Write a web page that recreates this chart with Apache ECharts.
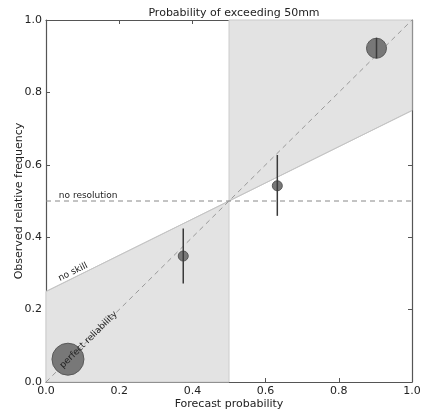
<!DOCTYPE html>
<html><head><meta charset="utf-8">
<script src="https://cdn.jsdelivr.net/npm/echarts@6/dist/echarts.min.js"></script>
<style>html,body{margin:0;padding:0;background:#fff}#c{width:422px;height:412px}</style>
</head><body><div id="c"></div>
<script>
// ---- data ----
const titleText = 'Probability of exceeding 50mm';
const xName = 'Forecast probability';
const yName = 'Observed relative frequency';
const tickValues = [0, 0.2, 0.4, 0.6, 0.8, 1.0];
const climatology = 0.5;
const forecastProb = [0.06, 0.375, 0.632, 0.903];
const observedFreq = [0.063, 0.348, 0.542, 0.922];
const errLow  = [null, 0.272, 0.459, 0.894];
const errHigh = [null, 0.424, 0.627, 0.951];
const pointSize = [32, 10, 10, 20];
const perfectLine = [[0, 0], [1, 1]];
const noSkillLine = [[0, 0.25], [1, 0.75]];
const noResolutionLine = [[0, 0.5], [1, 0.5]];
const skillLeft = [[0, 0], [0, 0.25], [0.5, 0.5], [0.5, 0]];
const skillRight = [[0.5, 0.5], [0.5, 1], [1, 1], [1, 0.75]];
const annotations = [
  {text: 'no resolution', at: [0.035, 0.5], along: noResolutionLine, valign: 'bottom'},
  {text: 'no skill', at: [0.042, 0.271], along: noSkillLine, valign: 'bottom'},
  {text: 'perfect reliability', at: [0.042, 0.042], along: perfectLine, valign: 'middle'}
];

const FONT = 'DejaVu Sans, sans-serif';
const chart = echarts.init(document.getElementById('c'), null, {renderer: 'canvas'});

function polySeries(poly) {
  return {
    type: 'custom', z: 1, silent: true,
    data: [[poly[0][0], poly[0][1]]],
    renderItem: function (params, api) {
      return {type: 'polygon', shape: {points: poly.map(p => api.coord(p))},
        style: {fill: '#e3e3e3', stroke: '#cccccc', lineWidth: 1}};
    }
  };
}

const axisCommon = {
  type: 'value', min: 0, max: 1, interval: 0.2,
  axisLine: {show: true, onZero: false, lineStyle: {color: '#555', width: 1.2}},
  axisTick: {show: true, inside: true, length: 4, lineStyle: {color: '#555'}},
  splitLine: {show: false}
};

const option = {
  backgroundColor: '#fff',
  animation: false,
  title: {text: titleText, left: 229, top: 3, textAlign: 'center',
    textStyle: {fontFamily: FONT, fontSize: 11, fontWeight: 'normal', color: '#222'}},
  grid: {left: 46, right: 10, top: 20, bottom: 30, containLabel: false, outerBoundsMode: 'none'},
  xAxis: [
    Object.assign({}, axisCommon, {position: 'bottom', name: xName, nameLocation: 'middle', nameGap: 17,
      nameMoveOverlap: false,
      nameTextStyle: {fontFamily: FONT, fontSize: 11, color: '#222'},
      axisLabel: {fontFamily: FONT, fontSize: 11, color: '#222', margin: 4, formatter: v => v.toFixed(1)}}),
    Object.assign({}, axisCommon, {position: 'top', axisLabel: {show: false}})
  ],
  yAxis: [
    Object.assign({}, axisCommon, {position: 'left', name: yName, nameLocation: 'middle', nameGap: 21,
      nameMoveOverlap: false,
      nameTextStyle: {fontFamily: FONT, fontSize: 11, color: '#222'},
      axisLabel: {fontFamily: FONT, fontSize: 11, color: '#222', margin: 4, formatter: v => v.toFixed(1)}}),
    Object.assign({}, axisCommon, {position: 'right', axisLabel: {show: false}})
  ],
  series: [
    polySeries(skillLeft),
    polySeries(skillRight),
    {type: 'line', z: 2, data: noSkillLine, symbol: 'none', silent: true,
      lineStyle: {color: '#c4c4c4', width: 1}},
    {type: 'line', z: 3, data: noResolutionLine, symbol: 'none', silent: true,
      lineStyle: {color: '#888', width: 1, type: [5, 4]}},
    {type: 'line', z: 3, data: perfectLine, symbol: 'none', silent: true,
      lineStyle: {color: '#999', width: 1, type: [5, 4]}},
    {type: 'scatter', z: 4, data: forecastProb.map((x, i) => [x, observedFreq[i], pointSize[i]]),
      symbolSize: d => d[2],
      itemStyle: {color: '#787878', borderColor: '#595959', borderWidth: 1, opacity: 1}},
    {type: 'custom', z: 5, silent: true,
      data: forecastProb.map((x, i) => [x, errLow[i], errHigh[i]]).filter(d => d[1] !== null),
      renderItem: function (params, api) {
        const a = api.coord([api.value(0), api.value(1)]);
        const b = api.coord([api.value(0), api.value(2)]);
        return {type: 'line', shape: {x1: a[0], y1: a[1], x2: b[0], y2: b[1]},
          style: {stroke: '#3a3a3a', lineWidth: 1.5}};
      }},
    {type: 'custom', z: 6, silent: true,
      data: annotations.map(a => [a.at[0], a.at[1]]),
      renderItem: function (params, api) {
        const ann = annotations[params.dataIndex];
        const p = api.coord(ann.at);
        const p0 = api.coord(ann.along[0]);
        const p1 = api.coord(ann.along[1]);
        const ang = Math.atan2(-(p1[1] - p0[1]), p1[0] - p0[0]);
        return {type: 'text', x: p[0], y: p[1], rotation: ang,
          style: {text: ann.text, x: 0, y: ann.valign === 'bottom' ? -1 : 0, fill: '#222', font: '9px ' + FONT,
            align: 'left', verticalAlign: ann.valign, textAlign: 'left', textVerticalAlign: ann.valign}};
      }}
  ]
};
chart.setOption(option);
</script>
</body></html>
